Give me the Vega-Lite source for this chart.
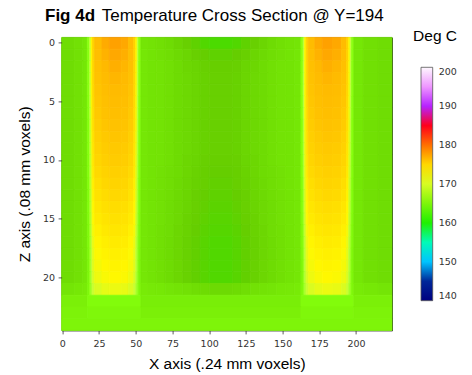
{
  "$schema": "https://vega.github.io/schema/vega-lite/v6.json",
  "autosize": "none",
  "padding": {"left": 61.6, "top": 37.4, "right": 80, "bottom": 44.6},
  "width": 330.4,
  "height": 293,
  "background": "white",
  "title": {
    "text": "Fig 4d",
    "subtitle": "\u200b\u00a0\u00a0\u00a0\u00a0\u00a0\u00a0\u00a0\u00a0\u00a0\u00a0\u00a0\u00a0Temperature Cross Section @ Y=194",
    "anchor": "start",
    "frame": "group",
    "dx": -16.6,
    "offset": 4,
    "font": "Liberation Sans",
    "fontSize": 17,
    "fontWeight": "bold",
    "color": "#000",
    "subtitleFont": "Liberation Sans",
    "subtitleFontSize": 17,
    "subtitleFontWeight": "normal",
    "subtitleColor": "#000",
    "subtitlePadding": -17
  },
  "config": {
    "view": {"stroke": "#333", "strokeWidth": 1},
    "font": "Liberation Sans"
  },
  "data": {
    "values": [
      {"a":-0.5,"b":8,"z":0,"t":163.2},{"a":8,"b":14,"z":0,"t":163.5},{"a":14,"b":17,"z":0,"t":163.9},{"a":17,"b":18.5,"z":0,"t":166},{"a":18.5,"b":19.5,"z":0,"t":168.7},{"a":19.5,"b":20.5,"z":0,"t":172.2},{"a":20.5,"b":22,"z":0,"t":175.6},{"a":22,"b":27,"z":0,"t":177.7},{"a":27,"b":32,"z":0,"t":178.3},{"a":32,"b":40,"z":0,"t":178.6},{"a":40,"b":45,"z":0,"t":178.4},{"a":45,"b":48.5,"z":0,"t":177.7},{"a":48.5,"b":50,"z":0,"t":175.6},{"a":50,"b":51,"z":0,"t":172.2},{"a":51,"b":52,"z":0,"t":168.7},{"a":52,"b":53.5,"z":0,"t":166},
      {"a":53.5,"b":58,"z":0,"t":163.8},{"a":58,"b":64,"z":0,"t":163.6},{"a":64,"b":70,"z":0,"t":163.4},{"a":70,"b":76,"z":0,"t":163.1},{"a":76,"b":82,"z":0,"t":162.7},{"a":82,"b":88,"z":0,"t":162.3},{"a":88,"b":94,"z":0,"t":161.9},{"a":94,"b":100,"z":0,"t":161.5},{"a":100,"b":116,"z":0,"t":161.3},{"a":116,"b":122,"z":0,"t":161.5},{"a":122,"b":128,"z":0,"t":161.9},{"a":128,"b":134,"z":0,"t":162.3},{"a":134,"b":140,"z":0,"t":162.7},{"a":140,"b":146,"z":0,"t":163.1},{"a":146,"b":152,"z":0,"t":163.4},{"a":152,"b":158,"z":0,"t":163.6},{"a":158,"b":162.5,"z":0,"t":163.8},
      {"a":162.5,"b":164,"z":0,"t":166},{"a":164,"b":165,"z":0,"t":168.7},{"a":165,"b":166,"z":0,"t":172.2},{"a":166,"b":167.5,"z":0,"t":175.6},{"a":167.5,"b":172,"z":0,"t":177.7},{"a":172,"b":177,"z":0,"t":178.3},{"a":177,"b":184,"z":0,"t":178.6},{"a":184,"b":190,"z":0,"t":178.4},{"a":190,"b":193.5,"z":0,"t":177.7},{"a":193.5,"b":195,"z":0,"t":175.6},{"a":195,"b":196,"z":0,"t":172.2},{"a":196,"b":197,"z":0,"t":168.7},{"a":197,"b":198.5,"z":0,"t":166},{"a":198.5,"b":205,"z":0,"t":163.9},{"a":205,"b":215,"z":0,"t":163.4},{"a":215,"b":224.5,"z":0,"t":163.2},

      {"a":-0.5,"b":8,"z":1,"t":163.2},{"a":8,"b":14,"z":1,"t":163.5},{"a":14,"b":17,"z":1,"t":163.9},{"a":17,"b":18.5,"z":1,"t":165.9},{"a":18.5,"b":19.5,"z":1,"t":168.7},{"a":19.5,"b":20.5,"z":1,"t":172.1},{"a":20.5,"b":22,"z":1,"t":175.5},{"a":22,"b":27,"z":1,"t":177.5},{"a":27,"b":32,"z":1,"t":178.1},{"a":32,"b":40,"z":1,"t":178.4},{"a":40,"b":45,"z":1,"t":178.2},{"a":45,"b":48.5,"z":1,"t":177.5},{"a":48.5,"b":50,"z":1,"t":175.5},{"a":50,"b":51,"z":1,"t":172.1},{"a":51,"b":52,"z":1,"t":168.7},{"a":52,"b":53.5,"z":1,"t":165.9},
      {"a":53.5,"b":58,"z":1,"t":163.9},{"a":58,"b":64,"z":1,"t":163.7},{"a":64,"b":70,"z":1,"t":163.5},{"a":70,"b":76,"z":1,"t":163.3},{"a":76,"b":82,"z":1,"t":163},{"a":82,"b":88,"z":1,"t":162.7},{"a":88,"b":94,"z":1,"t":162.3},{"a":94,"b":100,"z":1,"t":162.1},{"a":100,"b":116,"z":1,"t":161.9},{"a":116,"b":122,"z":1,"t":162.1},{"a":122,"b":128,"z":1,"t":162.3},{"a":128,"b":134,"z":1,"t":162.7},{"a":134,"b":140,"z":1,"t":163},{"a":140,"b":146,"z":1,"t":163.3},{"a":146,"b":152,"z":1,"t":163.5},{"a":152,"b":158,"z":1,"t":163.7},{"a":158,"b":162.5,"z":1,"t":163.9},
      {"a":162.5,"b":164,"z":1,"t":165.9},{"a":164,"b":165,"z":1,"t":168.7},{"a":165,"b":166,"z":1,"t":172.1},{"a":166,"b":167.5,"z":1,"t":175.5},{"a":167.5,"b":172,"z":1,"t":177.5},{"a":172,"b":177,"z":1,"t":178.1},{"a":177,"b":184,"z":1,"t":178.4},{"a":184,"b":190,"z":1,"t":178.2},{"a":190,"b":193.5,"z":1,"t":177.5},{"a":193.5,"b":195,"z":1,"t":175.5},{"a":195,"b":196,"z":1,"t":172.1},{"a":196,"b":197,"z":1,"t":168.7},{"a":197,"b":198.5,"z":1,"t":165.9},{"a":198.5,"b":205,"z":1,"t":163.9},{"a":205,"b":215,"z":1,"t":163.4},{"a":215,"b":224.5,"z":1,"t":163.2},

      {"a":-0.5,"b":8,"z":2,"t":163.2},{"a":8,"b":14,"z":2,"t":163.5},{"a":14,"b":17,"z":2,"t":163.9},{"a":17,"b":18.5,"z":2,"t":165.9},{"a":18.5,"b":19.5,"z":2,"t":168.6},{"a":19.5,"b":20.5,"z":2,"t":171.9},{"a":20.5,"b":22,"z":2,"t":175.3},{"a":22,"b":27,"z":2,"t":177.3},{"a":27,"b":32,"z":2,"t":177.9},{"a":32,"b":40,"z":2,"t":178.2},{"a":40,"b":45,"z":2,"t":178},{"a":45,"b":48.5,"z":2,"t":177.3},{"a":48.5,"b":50,"z":2,"t":175.3},{"a":50,"b":51,"z":2,"t":171.9},{"a":51,"b":52,"z":2,"t":168.6},{"a":52,"b":53.5,"z":2,"t":165.9},
      {"a":53.5,"b":58,"z":2,"t":163.9},{"a":58,"b":64,"z":2,"t":163.7},{"a":64,"b":70,"z":2,"t":163.6},{"a":70,"b":76,"z":2,"t":163.4},{"a":76,"b":82,"z":2,"t":163.1},{"a":82,"b":88,"z":2,"t":162.8},{"a":88,"b":94,"z":2,"t":162.6},{"a":94,"b":100,"z":2,"t":162.3},{"a":100,"b":116,"z":2,"t":162.2},{"a":116,"b":122,"z":2,"t":162.3},{"a":122,"b":128,"z":2,"t":162.6},{"a":128,"b":134,"z":2,"t":162.8},{"a":134,"b":140,"z":2,"t":163.1},{"a":140,"b":146,"z":2,"t":163.4},{"a":146,"b":152,"z":2,"t":163.6},{"a":152,"b":158,"z":2,"t":163.7},{"a":158,"b":162.5,"z":2,"t":163.9},
      {"a":162.5,"b":164,"z":2,"t":165.9},{"a":164,"b":165,"z":2,"t":168.6},{"a":165,"b":166,"z":2,"t":171.9},{"a":166,"b":167.5,"z":2,"t":175.3},{"a":167.5,"b":172,"z":2,"t":177.3},{"a":172,"b":177,"z":2,"t":177.9},{"a":177,"b":184,"z":2,"t":178.2},{"a":184,"b":190,"z":2,"t":178},{"a":190,"b":193.5,"z":2,"t":177.3},{"a":193.5,"b":195,"z":2,"t":175.3},{"a":195,"b":196,"z":2,"t":171.9},{"a":196,"b":197,"z":2,"t":168.6},{"a":197,"b":198.5,"z":2,"t":165.9},{"a":198.5,"b":205,"z":2,"t":163.9},{"a":205,"b":215,"z":2,"t":163.4},{"a":215,"b":224.5,"z":2,"t":163.2},

      {"a":-0.5,"b":8,"z":3,"t":163.2},{"a":8,"b":14,"z":3,"t":163.5},{"a":14,"b":17,"z":3,"t":163.9},{"a":17,"b":18.5,"z":3,"t":165.9},{"a":18.5,"b":19.5,"z":3,"t":168.5},{"a":19.5,"b":20.5,"z":3,"t":171.8},{"a":20.5,"b":22,"z":3,"t":175.1},{"a":22,"b":27,"z":3,"t":177.1},{"a":27,"b":32,"z":3,"t":177.7},{"a":32,"b":40,"z":3,"t":178},{"a":40,"b":45,"z":3,"t":177.8},{"a":45,"b":48.5,"z":3,"t":177.1},{"a":48.5,"b":50,"z":3,"t":175.1},{"a":50,"b":51,"z":3,"t":171.8},{"a":51,"b":52,"z":3,"t":168.5},{"a":52,"b":53.5,"z":3,"t":165.9},
      {"a":53.5,"b":58,"z":3,"t":163.9},{"a":58,"b":64,"z":3,"t":163.7},{"a":64,"b":70,"z":3,"t":163.6},{"a":70,"b":76,"z":3,"t":163.4},{"a":76,"b":82,"z":3,"t":163.1},{"a":82,"b":88,"z":3,"t":162.9},{"a":88,"b":94,"z":3,"t":162.7},{"a":94,"b":100,"z":3,"t":162.4},{"a":100,"b":116,"z":3,"t":162.3},{"a":116,"b":122,"z":3,"t":162.4},{"a":122,"b":128,"z":3,"t":162.7},{"a":128,"b":134,"z":3,"t":162.9},{"a":134,"b":140,"z":3,"t":163.1},{"a":140,"b":146,"z":3,"t":163.4},{"a":146,"b":152,"z":3,"t":163.6},{"a":152,"b":158,"z":3,"t":163.7},{"a":158,"b":162.5,"z":3,"t":163.9},
      {"a":162.5,"b":164,"z":3,"t":165.9},{"a":164,"b":165,"z":3,"t":168.5},{"a":165,"b":166,"z":3,"t":171.8},{"a":166,"b":167.5,"z":3,"t":175.1},{"a":167.5,"b":172,"z":3,"t":177.1},{"a":172,"b":177,"z":3,"t":177.7},{"a":177,"b":184,"z":3,"t":178},{"a":184,"b":190,"z":3,"t":177.8},{"a":190,"b":193.5,"z":3,"t":177.1},{"a":193.5,"b":195,"z":3,"t":175.1},{"a":195,"b":196,"z":3,"t":171.8},{"a":196,"b":197,"z":3,"t":168.5},{"a":197,"b":198.5,"z":3,"t":165.9},{"a":198.5,"b":205,"z":3,"t":163.9},{"a":205,"b":215,"z":3,"t":163.4},{"a":215,"b":224.5,"z":3,"t":163.2},

      {"a":-0.5,"b":8,"z":4,"t":163.2},{"a":8,"b":14,"z":4,"t":163.5},{"a":14,"b":17,"z":4,"t":163.9},{"a":17,"b":18.5,"z":4,"t":165.9},{"a":18.5,"b":19.5,"z":4,"t":168.5},{"a":19.5,"b":20.5,"z":4,"t":171.7},{"a":20.5,"b":22,"z":4,"t":175},{"a":22,"b":27,"z":4,"t":176.9},{"a":27,"b":32,"z":4,"t":177.5},{"a":32,"b":40,"z":4,"t":177.8},{"a":40,"b":45,"z":4,"t":177.6},{"a":45,"b":48.5,"z":4,"t":176.9},{"a":48.5,"b":50,"z":4,"t":175},{"a":50,"b":51,"z":4,"t":171.7},{"a":51,"b":52,"z":4,"t":168.5},{"a":52,"b":53.5,"z":4,"t":165.9},
      {"a":53.5,"b":58,"z":4,"t":163.9},{"a":58,"b":64,"z":4,"t":163.7},{"a":64,"b":70,"z":4,"t":163.6},{"a":70,"b":76,"z":4,"t":163.4},{"a":76,"b":82,"z":4,"t":163.1},{"a":82,"b":88,"z":4,"t":162.9},{"a":88,"b":94,"z":4,"t":162.7},{"a":94,"b":100,"z":4,"t":162.4},{"a":100,"b":116,"z":4,"t":162.3},{"a":116,"b":122,"z":4,"t":162.4},{"a":122,"b":128,"z":4,"t":162.7},{"a":128,"b":134,"z":4,"t":162.9},{"a":134,"b":140,"z":4,"t":163.1},{"a":140,"b":146,"z":4,"t":163.4},{"a":146,"b":152,"z":4,"t":163.6},{"a":152,"b":158,"z":4,"t":163.7},{"a":158,"b":162.5,"z":4,"t":163.9},
      {"a":162.5,"b":164,"z":4,"t":165.9},{"a":164,"b":165,"z":4,"t":168.5},{"a":165,"b":166,"z":4,"t":171.7},{"a":166,"b":167.5,"z":4,"t":175},{"a":167.5,"b":172,"z":4,"t":176.9},{"a":172,"b":177,"z":4,"t":177.5},{"a":177,"b":184,"z":4,"t":177.8},{"a":184,"b":190,"z":4,"t":177.6},{"a":190,"b":193.5,"z":4,"t":176.9},{"a":193.5,"b":195,"z":4,"t":175},{"a":195,"b":196,"z":4,"t":171.7},{"a":196,"b":197,"z":4,"t":168.5},{"a":197,"b":198.5,"z":4,"t":165.9},{"a":198.5,"b":205,"z":4,"t":163.9},{"a":205,"b":215,"z":4,"t":163.4},{"a":215,"b":224.5,"z":4,"t":163.2},

      {"a":-0.5,"b":8,"z":5,"t":163.2},{"a":8,"b":14,"z":5,"t":163.5},{"a":14,"b":17,"z":5,"t":163.9},{"a":17,"b":18.5,"z":5,"t":165.8},{"a":18.5,"b":19.5,"z":5,"t":168.4},{"a":19.5,"b":20.5,"z":5,"t":171.6},{"a":20.5,"b":22,"z":5,"t":174.8},{"a":22,"b":27,"z":5,"t":176.7},{"a":27,"b":32,"z":5,"t":177.3},{"a":32,"b":40,"z":5,"t":177.6},{"a":40,"b":45,"z":5,"t":177.4},{"a":45,"b":48.5,"z":5,"t":176.7},{"a":48.5,"b":50,"z":5,"t":174.8},{"a":50,"b":51,"z":5,"t":171.6},{"a":51,"b":52,"z":5,"t":168.4},{"a":52,"b":53.5,"z":5,"t":165.8},
      {"a":53.5,"b":58,"z":5,"t":163.9},{"a":58,"b":64,"z":5,"t":163.7},{"a":64,"b":70,"z":5,"t":163.6},{"a":70,"b":76,"z":5,"t":163.4},{"a":76,"b":82,"z":5,"t":163.1},{"a":82,"b":88,"z":5,"t":162.9},{"a":88,"b":94,"z":5,"t":162.7},{"a":94,"b":100,"z":5,"t":162.4},{"a":100,"b":116,"z":5,"t":162.3},{"a":116,"b":122,"z":5,"t":162.4},{"a":122,"b":128,"z":5,"t":162.7},{"a":128,"b":134,"z":5,"t":162.9},{"a":134,"b":140,"z":5,"t":163.1},{"a":140,"b":146,"z":5,"t":163.4},{"a":146,"b":152,"z":5,"t":163.6},{"a":152,"b":158,"z":5,"t":163.7},{"a":158,"b":162.5,"z":5,"t":163.9},
      {"a":162.5,"b":164,"z":5,"t":165.8},{"a":164,"b":165,"z":5,"t":168.4},{"a":165,"b":166,"z":5,"t":171.6},{"a":166,"b":167.5,"z":5,"t":174.8},{"a":167.5,"b":172,"z":5,"t":176.7},{"a":172,"b":177,"z":5,"t":177.3},{"a":177,"b":184,"z":5,"t":177.6},{"a":184,"b":190,"z":5,"t":177.4},{"a":190,"b":193.5,"z":5,"t":176.7},{"a":193.5,"b":195,"z":5,"t":174.8},{"a":195,"b":196,"z":5,"t":171.6},{"a":196,"b":197,"z":5,"t":168.4},{"a":197,"b":198.5,"z":5,"t":165.8},{"a":198.5,"b":205,"z":5,"t":163.9},{"a":205,"b":215,"z":5,"t":163.4},{"a":215,"b":224.5,"z":5,"t":163.2},

      {"a":-0.5,"b":8,"z":6,"t":163.2},{"a":8,"b":14,"z":6,"t":163.5},{"a":14,"b":17,"z":6,"t":163.9},{"a":17,"b":18.5,"z":6,"t":165.8},{"a":18.5,"b":19.5,"z":6,"t":168.3},{"a":19.5,"b":20.5,"z":6,"t":171.5},{"a":20.5,"b":22,"z":6,"t":174.6},{"a":22,"b":27,"z":6,"t":176.5},{"a":27,"b":32,"z":6,"t":177.1},{"a":32,"b":40,"z":6,"t":177.4},{"a":40,"b":45,"z":6,"t":177.2},{"a":45,"b":48.5,"z":6,"t":176.5},{"a":48.5,"b":50,"z":6,"t":174.6},{"a":50,"b":51,"z":6,"t":171.5},{"a":51,"b":52,"z":6,"t":168.3},{"a":52,"b":53.5,"z":6,"t":165.8},
      {"a":53.5,"b":58,"z":6,"t":163.9},{"a":58,"b":64,"z":6,"t":163.7},{"a":64,"b":70,"z":6,"t":163.6},{"a":70,"b":76,"z":6,"t":163.4},{"a":76,"b":82,"z":6,"t":163.1},{"a":82,"b":88,"z":6,"t":162.9},{"a":88,"b":94,"z":6,"t":162.7},{"a":94,"b":100,"z":6,"t":162.4},{"a":100,"b":116,"z":6,"t":162.3},{"a":116,"b":122,"z":6,"t":162.4},{"a":122,"b":128,"z":6,"t":162.7},{"a":128,"b":134,"z":6,"t":162.9},{"a":134,"b":140,"z":6,"t":163.1},{"a":140,"b":146,"z":6,"t":163.4},{"a":146,"b":152,"z":6,"t":163.6},{"a":152,"b":158,"z":6,"t":163.7},{"a":158,"b":162.5,"z":6,"t":163.9},
      {"a":162.5,"b":164,"z":6,"t":165.8},{"a":164,"b":165,"z":6,"t":168.3},{"a":165,"b":166,"z":6,"t":171.5},{"a":166,"b":167.5,"z":6,"t":174.6},{"a":167.5,"b":172,"z":6,"t":176.5},{"a":172,"b":177,"z":6,"t":177.1},{"a":177,"b":184,"z":6,"t":177.4},{"a":184,"b":190,"z":6,"t":177.2},{"a":190,"b":193.5,"z":6,"t":176.5},{"a":193.5,"b":195,"z":6,"t":174.6},{"a":195,"b":196,"z":6,"t":171.5},{"a":196,"b":197,"z":6,"t":168.3},{"a":197,"b":198.5,"z":6,"t":165.8},{"a":198.5,"b":205,"z":6,"t":163.9},{"a":205,"b":215,"z":6,"t":163.4},{"a":215,"b":224.5,"z":6,"t":163.2},

      {"a":-0.5,"b":8,"z":7,"t":163.2},{"a":8,"b":14,"z":7,"t":163.5},{"a":14,"b":17,"z":7,"t":163.9},{"a":17,"b":18.5,"z":7,"t":165.7},{"a":18.5,"b":19.5,"z":7,"t":168.2},{"a":19.5,"b":20.5,"z":7,"t":171.3},{"a":20.5,"b":22,"z":7,"t":174.4},{"a":22,"b":27,"z":7,"t":176.2},{"a":27,"b":32,"z":7,"t":176.8},{"a":32,"b":40,"z":7,"t":177.1},{"a":40,"b":45,"z":7,"t":176.9},{"a":45,"b":48.5,"z":7,"t":176.2},{"a":48.5,"b":50,"z":7,"t":174.4},{"a":50,"b":51,"z":7,"t":171.3},{"a":51,"b":52,"z":7,"t":168.2},{"a":52,"b":53.5,"z":7,"t":165.7},
      {"a":53.5,"b":58,"z":7,"t":163.9},{"a":58,"b":64,"z":7,"t":163.7},{"a":64,"b":70,"z":7,"t":163.6},{"a":70,"b":76,"z":7,"t":163.4},{"a":76,"b":82,"z":7,"t":163.1},{"a":82,"b":88,"z":7,"t":162.9},{"a":88,"b":94,"z":7,"t":162.7},{"a":94,"b":100,"z":7,"t":162.4},{"a":100,"b":116,"z":7,"t":162.3},{"a":116,"b":122,"z":7,"t":162.4},{"a":122,"b":128,"z":7,"t":162.7},{"a":128,"b":134,"z":7,"t":162.9},{"a":134,"b":140,"z":7,"t":163.1},{"a":140,"b":146,"z":7,"t":163.4},{"a":146,"b":152,"z":7,"t":163.6},{"a":152,"b":158,"z":7,"t":163.7},{"a":158,"b":162.5,"z":7,"t":163.9},
      {"a":162.5,"b":164,"z":7,"t":165.7},{"a":164,"b":165,"z":7,"t":168.2},{"a":165,"b":166,"z":7,"t":171.3},{"a":166,"b":167.5,"z":7,"t":174.4},{"a":167.5,"b":172,"z":7,"t":176.2},{"a":172,"b":177,"z":7,"t":176.8},{"a":177,"b":184,"z":7,"t":177.1},{"a":184,"b":190,"z":7,"t":176.9},{"a":190,"b":193.5,"z":7,"t":176.2},{"a":193.5,"b":195,"z":7,"t":174.4},{"a":195,"b":196,"z":7,"t":171.3},{"a":196,"b":197,"z":7,"t":168.2},{"a":197,"b":198.5,"z":7,"t":165.7},{"a":198.5,"b":205,"z":7,"t":163.9},{"a":205,"b":215,"z":7,"t":163.4},{"a":215,"b":224.5,"z":7,"t":163.2},

      {"a":-0.5,"b":8,"z":8,"t":163.2},{"a":8,"b":14,"z":8,"t":163.5},{"a":14,"b":17,"z":8,"t":163.9},{"a":17,"b":18.5,"z":8,"t":165.7},{"a":18.5,"b":19.5,"z":8,"t":168.1},{"a":19.5,"b":20.5,"z":8,"t":171.1},{"a":20.5,"b":22,"z":8,"t":174.1},{"a":22,"b":27,"z":8,"t":175.9},{"a":27,"b":32,"z":8,"t":176.5},{"a":32,"b":40,"z":8,"t":176.8},{"a":40,"b":45,"z":8,"t":176.6},{"a":45,"b":48.5,"z":8,"t":175.9},{"a":48.5,"b":50,"z":8,"t":174.1},{"a":50,"b":51,"z":8,"t":171.1},{"a":51,"b":52,"z":8,"t":168.1},{"a":52,"b":53.5,"z":8,"t":165.7},
      {"a":53.5,"b":58,"z":8,"t":163.9},{"a":58,"b":64,"z":8,"t":163.7},{"a":64,"b":70,"z":8,"t":163.6},{"a":70,"b":76,"z":8,"t":163.4},{"a":76,"b":82,"z":8,"t":163.1},{"a":82,"b":88,"z":8,"t":162.9},{"a":88,"b":94,"z":8,"t":162.7},{"a":94,"b":100,"z":8,"t":162.4},{"a":100,"b":116,"z":8,"t":162.3},{"a":116,"b":122,"z":8,"t":162.4},{"a":122,"b":128,"z":8,"t":162.7},{"a":128,"b":134,"z":8,"t":162.9},{"a":134,"b":140,"z":8,"t":163.1},{"a":140,"b":146,"z":8,"t":163.4},{"a":146,"b":152,"z":8,"t":163.6},{"a":152,"b":158,"z":8,"t":163.7},{"a":158,"b":162.5,"z":8,"t":163.9},
      {"a":162.5,"b":164,"z":8,"t":165.7},{"a":164,"b":165,"z":8,"t":168.1},{"a":165,"b":166,"z":8,"t":171.1},{"a":166,"b":167.5,"z":8,"t":174.1},{"a":167.5,"b":172,"z":8,"t":175.9},{"a":172,"b":177,"z":8,"t":176.5},{"a":177,"b":184,"z":8,"t":176.8},{"a":184,"b":190,"z":8,"t":176.6},{"a":190,"b":193.5,"z":8,"t":175.9},{"a":193.5,"b":195,"z":8,"t":174.1},{"a":195,"b":196,"z":8,"t":171.1},{"a":196,"b":197,"z":8,"t":168.1},{"a":197,"b":198.5,"z":8,"t":165.7},{"a":198.5,"b":205,"z":8,"t":163.9},{"a":205,"b":215,"z":8,"t":163.4},{"a":215,"b":224.5,"z":8,"t":163.2},

      {"a":-0.5,"b":8,"z":9,"t":163.2},{"a":8,"b":14,"z":9,"t":163.5},{"a":14,"b":17,"z":9,"t":163.9},{"a":17,"b":18.5,"z":9,"t":165.7},{"a":18.5,"b":19.5,"z":9,"t":168},{"a":19.5,"b":20.5,"z":9,"t":170.9},{"a":20.5,"b":22,"z":9,"t":173.8},{"a":22,"b":27,"z":9,"t":175.6},{"a":27,"b":32,"z":9,"t":176.2},{"a":32,"b":40,"z":9,"t":176.5},{"a":40,"b":45,"z":9,"t":176.3},{"a":45,"b":48.5,"z":9,"t":175.6},{"a":48.5,"b":50,"z":9,"t":173.8},{"a":50,"b":51,"z":9,"t":170.9},{"a":51,"b":52,"z":9,"t":168},{"a":52,"b":53.5,"z":9,"t":165.7},
      {"a":53.5,"b":58,"z":9,"t":163.9},{"a":58,"b":64,"z":9,"t":163.7},{"a":64,"b":70,"z":9,"t":163.6},{"a":70,"b":76,"z":9,"t":163.4},{"a":76,"b":82,"z":9,"t":163.1},{"a":82,"b":88,"z":9,"t":162.9},{"a":88,"b":94,"z":9,"t":162.7},{"a":94,"b":100,"z":9,"t":162.4},{"a":100,"b":116,"z":9,"t":162.3},{"a":116,"b":122,"z":9,"t":162.4},{"a":122,"b":128,"z":9,"t":162.7},{"a":128,"b":134,"z":9,"t":162.9},{"a":134,"b":140,"z":9,"t":163.1},{"a":140,"b":146,"z":9,"t":163.4},{"a":146,"b":152,"z":9,"t":163.6},{"a":152,"b":158,"z":9,"t":163.7},{"a":158,"b":162.5,"z":9,"t":163.9},
      {"a":162.5,"b":164,"z":9,"t":165.7},{"a":164,"b":165,"z":9,"t":168},{"a":165,"b":166,"z":9,"t":170.9},{"a":166,"b":167.5,"z":9,"t":173.8},{"a":167.5,"b":172,"z":9,"t":175.6},{"a":172,"b":177,"z":9,"t":176.2},{"a":177,"b":184,"z":9,"t":176.5},{"a":184,"b":190,"z":9,"t":176.3},{"a":190,"b":193.5,"z":9,"t":175.6},{"a":193.5,"b":195,"z":9,"t":173.8},{"a":195,"b":196,"z":9,"t":170.9},{"a":196,"b":197,"z":9,"t":168},{"a":197,"b":198.5,"z":9,"t":165.7},{"a":198.5,"b":205,"z":9,"t":163.9},{"a":205,"b":215,"z":9,"t":163.4},{"a":215,"b":224.5,"z":9,"t":163.2},

      {"a":-0.5,"b":8,"z":10,"t":163.2},{"a":8,"b":14,"z":10,"t":163.5},{"a":14,"b":17,"z":10,"t":163.9},{"a":17,"b":18.5,"z":10,"t":165.6},{"a":18.5,"b":19.5,"z":10,"t":167.9},{"a":19.5,"b":20.5,"z":10,"t":170.7},{"a":20.5,"b":22,"z":10,"t":173.6},{"a":22,"b":27,"z":10,"t":175.3},{"a":27,"b":32,"z":10,"t":175.9},{"a":32,"b":40,"z":10,"t":176.2},{"a":40,"b":45,"z":10,"t":176},{"a":45,"b":48.5,"z":10,"t":175.3},{"a":48.5,"b":50,"z":10,"t":173.6},{"a":50,"b":51,"z":10,"t":170.7},{"a":51,"b":52,"z":10,"t":167.9},{"a":52,"b":53.5,"z":10,"t":165.6},
      {"a":53.5,"b":58,"z":10,"t":163.9},{"a":58,"b":64,"z":10,"t":163.7},{"a":64,"b":70,"z":10,"t":163.6},{"a":70,"b":76,"z":10,"t":163.4},{"a":76,"b":82,"z":10,"t":163.1},{"a":82,"b":88,"z":10,"t":162.8},{"a":88,"b":94,"z":10,"t":162.6},{"a":94,"b":100,"z":10,"t":162.3},{"a":100,"b":116,"z":10,"t":162.2},{"a":116,"b":122,"z":10,"t":162.3},{"a":122,"b":128,"z":10,"t":162.6},{"a":128,"b":134,"z":10,"t":162.8},{"a":134,"b":140,"z":10,"t":163.1},{"a":140,"b":146,"z":10,"t":163.4},{"a":146,"b":152,"z":10,"t":163.6},{"a":152,"b":158,"z":10,"t":163.7},{"a":158,"b":162.5,"z":10,"t":163.9},
      {"a":162.5,"b":164,"z":10,"t":165.6},{"a":164,"b":165,"z":10,"t":167.9},{"a":165,"b":166,"z":10,"t":170.7},{"a":166,"b":167.5,"z":10,"t":173.6},{"a":167.5,"b":172,"z":10,"t":175.3},{"a":172,"b":177,"z":10,"t":175.9},{"a":177,"b":184,"z":10,"t":176.2},{"a":184,"b":190,"z":10,"t":176},{"a":190,"b":193.5,"z":10,"t":175.3},{"a":193.5,"b":195,"z":10,"t":173.6},{"a":195,"b":196,"z":10,"t":170.7},{"a":196,"b":197,"z":10,"t":167.9},{"a":197,"b":198.5,"z":10,"t":165.6},{"a":198.5,"b":205,"z":10,"t":163.9},{"a":205,"b":215,"z":10,"t":163.4},{"a":215,"b":224.5,"z":10,"t":163.2},

      {"a":-0.5,"b":8,"z":11,"t":163.2},{"a":8,"b":14,"z":11,"t":163.5},{"a":14,"b":17,"z":11,"t":163.9},{"a":17,"b":18.5,"z":11,"t":165.6},{"a":18.5,"b":19.5,"z":11,"t":167.8},{"a":19.5,"b":20.5,"z":11,"t":170.5},{"a":20.5,"b":22,"z":11,"t":173.3},{"a":22,"b":27,"z":11,"t":174.9},{"a":27,"b":32,"z":11,"t":175.5},{"a":32,"b":40,"z":11,"t":175.8},{"a":40,"b":45,"z":11,"t":175.6},{"a":45,"b":48.5,"z":11,"t":174.9},{"a":48.5,"b":50,"z":11,"t":173.3},{"a":50,"b":51,"z":11,"t":170.5},{"a":51,"b":52,"z":11,"t":167.8},{"a":52,"b":53.5,"z":11,"t":165.6},
      {"a":53.5,"b":58,"z":11,"t":163.9},{"a":58,"b":64,"z":11,"t":163.7},{"a":64,"b":70,"z":11,"t":163.5},{"a":70,"b":76,"z":11,"t":163.3},{"a":76,"b":82,"z":11,"t":163.1},{"a":82,"b":88,"z":11,"t":162.8},{"a":88,"b":94,"z":11,"t":162.5},{"a":94,"b":100,"z":11,"t":162.2},{"a":100,"b":116,"z":11,"t":162.1},{"a":116,"b":122,"z":11,"t":162.2},{"a":122,"b":128,"z":11,"t":162.5},{"a":128,"b":134,"z":11,"t":162.8},{"a":134,"b":140,"z":11,"t":163.1},{"a":140,"b":146,"z":11,"t":163.3},{"a":146,"b":152,"z":11,"t":163.5},{"a":152,"b":158,"z":11,"t":163.7},{"a":158,"b":162.5,"z":11,"t":163.9},
      {"a":162.5,"b":164,"z":11,"t":165.6},{"a":164,"b":165,"z":11,"t":167.8},{"a":165,"b":166,"z":11,"t":170.5},{"a":166,"b":167.5,"z":11,"t":173.3},{"a":167.5,"b":172,"z":11,"t":174.9},{"a":172,"b":177,"z":11,"t":175.5},{"a":177,"b":184,"z":11,"t":175.8},{"a":184,"b":190,"z":11,"t":175.6},{"a":190,"b":193.5,"z":11,"t":174.9},{"a":193.5,"b":195,"z":11,"t":173.3},{"a":195,"b":196,"z":11,"t":170.5},{"a":196,"b":197,"z":11,"t":167.8},{"a":197,"b":198.5,"z":11,"t":165.6},{"a":198.5,"b":205,"z":11,"t":163.9},{"a":205,"b":215,"z":11,"t":163.4},{"a":215,"b":224.5,"z":11,"t":163.2},

      {"a":-0.5,"b":8,"z":12,"t":163.2},{"a":8,"b":14,"z":12,"t":163.5},{"a":14,"b":17,"z":12,"t":163.9},{"a":17,"b":18.5,"z":12,"t":165.5},{"a":18.5,"b":19.5,"z":12,"t":167.6},{"a":19.5,"b":20.5,"z":12,"t":170.3},{"a":20.5,"b":22,"z":12,"t":172.9},{"a":22,"b":27,"z":12,"t":174.5},{"a":27,"b":32,"z":12,"t":175.1},{"a":32,"b":40,"z":12,"t":175.4},{"a":40,"b":45,"z":12,"t":175.2},{"a":45,"b":48.5,"z":12,"t":174.5},{"a":48.5,"b":50,"z":12,"t":172.9},{"a":50,"b":51,"z":12,"t":170.3},{"a":51,"b":52,"z":12,"t":167.6},{"a":52,"b":53.5,"z":12,"t":165.5},
      {"a":53.5,"b":58,"z":12,"t":163.9},{"a":58,"b":64,"z":12,"t":163.7},{"a":64,"b":70,"z":12,"t":163.5},{"a":70,"b":76,"z":12,"t":163.3},{"a":76,"b":82,"z":12,"t":163},{"a":82,"b":88,"z":12,"t":162.7},{"a":88,"b":94,"z":12,"t":162.4},{"a":94,"b":100,"z":12,"t":162.2},{"a":100,"b":116,"z":12,"t":162},{"a":116,"b":122,"z":12,"t":162.2},{"a":122,"b":128,"z":12,"t":162.4},{"a":128,"b":134,"z":12,"t":162.7},{"a":134,"b":140,"z":12,"t":163},{"a":140,"b":146,"z":12,"t":163.3},{"a":146,"b":152,"z":12,"t":163.5},{"a":152,"b":158,"z":12,"t":163.7},{"a":158,"b":162.5,"z":12,"t":163.9},
      {"a":162.5,"b":164,"z":12,"t":165.5},{"a":164,"b":165,"z":12,"t":167.6},{"a":165,"b":166,"z":12,"t":170.3},{"a":166,"b":167.5,"z":12,"t":172.9},{"a":167.5,"b":172,"z":12,"t":174.5},{"a":172,"b":177,"z":12,"t":175.1},{"a":177,"b":184,"z":12,"t":175.4},{"a":184,"b":190,"z":12,"t":175.2},{"a":190,"b":193.5,"z":12,"t":174.5},{"a":193.5,"b":195,"z":12,"t":172.9},{"a":195,"b":196,"z":12,"t":170.3},{"a":196,"b":197,"z":12,"t":167.6},{"a":197,"b":198.5,"z":12,"t":165.5},{"a":198.5,"b":205,"z":12,"t":163.9},{"a":205,"b":215,"z":12,"t":163.4},{"a":215,"b":224.5,"z":12,"t":163.2},

      {"a":-0.5,"b":8,"z":13,"t":163.2},{"a":8,"b":14,"z":13,"t":163.5},{"a":14,"b":17,"z":13,"t":163.9},{"a":17,"b":18.5,"z":13,"t":165.4},{"a":18.5,"b":19.5,"z":13,"t":167.5},{"a":19.5,"b":20.5,"z":13,"t":170},{"a":20.5,"b":22,"z":13,"t":172.6},{"a":22,"b":27,"z":13,"t":174.1},{"a":27,"b":32,"z":13,"t":174.7},{"a":32,"b":40,"z":13,"t":175},{"a":40,"b":45,"z":13,"t":174.8},{"a":45,"b":48.5,"z":13,"t":174.1},{"a":48.5,"b":50,"z":13,"t":172.6},{"a":50,"b":51,"z":13,"t":170},{"a":51,"b":52,"z":13,"t":167.5},{"a":52,"b":53.5,"z":13,"t":165.4},
      {"a":53.5,"b":58,"z":13,"t":163.9},{"a":58,"b":64,"z":13,"t":163.7},{"a":64,"b":70,"z":13,"t":163.5},{"a":70,"b":76,"z":13,"t":163.3},{"a":76,"b":82,"z":13,"t":163},{"a":82,"b":88,"z":13,"t":162.7},{"a":88,"b":94,"z":13,"t":162.3},{"a":94,"b":100,"z":13,"t":162.1},{"a":100,"b":116,"z":13,"t":161.9},{"a":116,"b":122,"z":13,"t":162.1},{"a":122,"b":128,"z":13,"t":162.3},{"a":128,"b":134,"z":13,"t":162.7},{"a":134,"b":140,"z":13,"t":163},{"a":140,"b":146,"z":13,"t":163.3},{"a":146,"b":152,"z":13,"t":163.5},{"a":152,"b":158,"z":13,"t":163.7},{"a":158,"b":162.5,"z":13,"t":163.9},
      {"a":162.5,"b":164,"z":13,"t":165.4},{"a":164,"b":165,"z":13,"t":167.5},{"a":165,"b":166,"z":13,"t":170},{"a":166,"b":167.5,"z":13,"t":172.6},{"a":167.5,"b":172,"z":13,"t":174.1},{"a":172,"b":177,"z":13,"t":174.7},{"a":177,"b":184,"z":13,"t":175},{"a":184,"b":190,"z":13,"t":174.8},{"a":190,"b":193.5,"z":13,"t":174.1},{"a":193.5,"b":195,"z":13,"t":172.6},{"a":195,"b":196,"z":13,"t":170},{"a":196,"b":197,"z":13,"t":167.5},{"a":197,"b":198.5,"z":13,"t":165.4},{"a":198.5,"b":205,"z":13,"t":163.9},{"a":205,"b":215,"z":13,"t":163.4},{"a":215,"b":224.5,"z":13,"t":163.2},

      {"a":-0.5,"b":8,"z":14,"t":163.2},{"a":8,"b":14,"z":14,"t":163.5},{"a":14,"b":17,"z":14,"t":163.9},{"a":17,"b":18.5,"z":14,"t":165.4},{"a":18.5,"b":19.5,"z":14,"t":167.3},{"a":19.5,"b":20.5,"z":14,"t":169.8},{"a":20.5,"b":22,"z":14,"t":172.2},{"a":22,"b":27,"z":14,"t":173.7},{"a":27,"b":32,"z":14,"t":174.3},{"a":32,"b":40,"z":14,"t":174.6},{"a":40,"b":45,"z":14,"t":174.4},{"a":45,"b":48.5,"z":14,"t":173.7},{"a":48.5,"b":50,"z":14,"t":172.2},{"a":50,"b":51,"z":14,"t":169.8},{"a":51,"b":52,"z":14,"t":167.3},{"a":52,"b":53.5,"z":14,"t":165.4},
      {"a":53.5,"b":58,"z":14,"t":163.9},{"a":58,"b":64,"z":14,"t":163.7},{"a":64,"b":70,"z":14,"t":163.5},{"a":70,"b":76,"z":14,"t":163.2},{"a":76,"b":82,"z":14,"t":162.9},{"a":82,"b":88,"z":14,"t":162.6},{"a":88,"b":94,"z":14,"t":162.3},{"a":94,"b":100,"z":14,"t":162},{"a":100,"b":116,"z":14,"t":161.8},{"a":116,"b":122,"z":14,"t":162},{"a":122,"b":128,"z":14,"t":162.3},{"a":128,"b":134,"z":14,"t":162.6},{"a":134,"b":140,"z":14,"t":162.9},{"a":140,"b":146,"z":14,"t":163.2},{"a":146,"b":152,"z":14,"t":163.5},{"a":152,"b":158,"z":14,"t":163.7},{"a":158,"b":162.5,"z":14,"t":163.9},
      {"a":162.5,"b":164,"z":14,"t":165.4},{"a":164,"b":165,"z":14,"t":167.3},{"a":165,"b":166,"z":14,"t":169.8},{"a":166,"b":167.5,"z":14,"t":172.2},{"a":167.5,"b":172,"z":14,"t":173.7},{"a":172,"b":177,"z":14,"t":174.3},{"a":177,"b":184,"z":14,"t":174.6},{"a":184,"b":190,"z":14,"t":174.4},{"a":190,"b":193.5,"z":14,"t":173.7},{"a":193.5,"b":195,"z":14,"t":172.2},{"a":195,"b":196,"z":14,"t":169.8},{"a":196,"b":197,"z":14,"t":167.3},{"a":197,"b":198.5,"z":14,"t":165.4},{"a":198.5,"b":205,"z":14,"t":163.9},{"a":205,"b":215,"z":14,"t":163.4},{"a":215,"b":224.5,"z":14,"t":163.2},

      {"a":-0.5,"b":8,"z":15,"t":163.2},{"a":8,"b":14,"z":15,"t":163.5},{"a":14,"b":17,"z":15,"t":163.9},{"a":17,"b":18.5,"z":15,"t":165.3},{"a":18.5,"b":19.5,"z":15,"t":167.2},{"a":19.5,"b":20.5,"z":15,"t":169.5},{"a":20.5,"b":22,"z":15,"t":171.9},{"a":22,"b":27,"z":15,"t":173.3},{"a":27,"b":32,"z":15,"t":173.9},{"a":32,"b":40,"z":15,"t":174.2},{"a":40,"b":45,"z":15,"t":174},{"a":45,"b":48.5,"z":15,"t":173.3},{"a":48.5,"b":50,"z":15,"t":171.9},{"a":50,"b":51,"z":15,"t":169.5},{"a":51,"b":52,"z":15,"t":167.2},{"a":52,"b":53.5,"z":15,"t":165.3},
      {"a":53.5,"b":58,"z":15,"t":163.9},{"a":58,"b":64,"z":15,"t":163.7},{"a":64,"b":70,"z":15,"t":163.5},{"a":70,"b":76,"z":15,"t":163.2},{"a":76,"b":82,"z":15,"t":162.9},{"a":82,"b":88,"z":15,"t":162.5},{"a":88,"b":94,"z":15,"t":162.2},{"a":94,"b":100,"z":15,"t":161.9},{"a":100,"b":116,"z":15,"t":161.7},{"a":116,"b":122,"z":15,"t":161.9},{"a":122,"b":128,"z":15,"t":162.2},{"a":128,"b":134,"z":15,"t":162.5},{"a":134,"b":140,"z":15,"t":162.9},{"a":140,"b":146,"z":15,"t":163.2},{"a":146,"b":152,"z":15,"t":163.5},{"a":152,"b":158,"z":15,"t":163.7},{"a":158,"b":162.5,"z":15,"t":163.9},
      {"a":162.5,"b":164,"z":15,"t":165.3},{"a":164,"b":165,"z":15,"t":167.2},{"a":165,"b":166,"z":15,"t":169.5},{"a":166,"b":167.5,"z":15,"t":171.9},{"a":167.5,"b":172,"z":15,"t":173.3},{"a":172,"b":177,"z":15,"t":173.9},{"a":177,"b":184,"z":15,"t":174.2},{"a":184,"b":190,"z":15,"t":174},{"a":190,"b":193.5,"z":15,"t":173.3},{"a":193.5,"b":195,"z":15,"t":171.9},{"a":195,"b":196,"z":15,"t":169.5},{"a":196,"b":197,"z":15,"t":167.2},{"a":197,"b":198.5,"z":15,"t":165.3},{"a":198.5,"b":205,"z":15,"t":163.9},{"a":205,"b":215,"z":15,"t":163.4},{"a":215,"b":224.5,"z":15,"t":163.2},

      {"a":-0.5,"b":8,"z":16,"t":163.2},{"a":8,"b":14,"z":16,"t":163.5},{"a":14,"b":17,"z":16,"t":163.9},{"a":17,"b":18.5,"z":16,"t":165.2},{"a":18.5,"b":19.5,"z":16,"t":167},{"a":19.5,"b":20.5,"z":16,"t":169.2},{"a":20.5,"b":22,"z":16,"t":171.5},{"a":22,"b":27,"z":16,"t":172.8},{"a":27,"b":32,"z":16,"t":173.4},{"a":32,"b":40,"z":16,"t":173.7},{"a":40,"b":45,"z":16,"t":173.5},{"a":45,"b":48.5,"z":16,"t":172.8},{"a":48.5,"b":50,"z":16,"t":171.5},{"a":50,"b":51,"z":16,"t":169.2},{"a":51,"b":52,"z":16,"t":167},{"a":52,"b":53.5,"z":16,"t":165.2},
      {"a":53.5,"b":58,"z":16,"t":163.9},{"a":58,"b":64,"z":16,"t":163.7},{"a":64,"b":70,"z":16,"t":163.4},{"a":70,"b":76,"z":16,"t":163.2},{"a":76,"b":82,"z":16,"t":162.8},{"a":82,"b":88,"z":16,"t":162.5},{"a":88,"b":94,"z":16,"t":162.1},{"a":94,"b":100,"z":16,"t":161.8},{"a":100,"b":116,"z":16,"t":161.6},{"a":116,"b":122,"z":16,"t":161.8},{"a":122,"b":128,"z":16,"t":162.1},{"a":128,"b":134,"z":16,"t":162.5},{"a":134,"b":140,"z":16,"t":162.8},{"a":140,"b":146,"z":16,"t":163.2},{"a":146,"b":152,"z":16,"t":163.4},{"a":152,"b":158,"z":16,"t":163.7},{"a":158,"b":162.5,"z":16,"t":163.9},
      {"a":162.5,"b":164,"z":16,"t":165.2},{"a":164,"b":165,"z":16,"t":167},{"a":165,"b":166,"z":16,"t":169.2},{"a":166,"b":167.5,"z":16,"t":171.5},{"a":167.5,"b":172,"z":16,"t":172.8},{"a":172,"b":177,"z":16,"t":173.4},{"a":177,"b":184,"z":16,"t":173.7},{"a":184,"b":190,"z":16,"t":173.5},{"a":190,"b":193.5,"z":16,"t":172.8},{"a":193.5,"b":195,"z":16,"t":171.5},{"a":195,"b":196,"z":16,"t":169.2},{"a":196,"b":197,"z":16,"t":167},{"a":197,"b":198.5,"z":16,"t":165.2},{"a":198.5,"b":205,"z":16,"t":163.9},{"a":205,"b":215,"z":16,"t":163.4},{"a":215,"b":224.5,"z":16,"t":163.2},

      {"a":-0.5,"b":8,"z":17,"t":163.2},{"a":8,"b":14,"z":17,"t":163.5},{"a":14,"b":17,"z":17,"t":163.9},{"a":17,"b":18.5,"z":17,"t":165.2},{"a":18.5,"b":19.5,"z":17,"t":166.8},{"a":19.5,"b":20.5,"z":17,"t":168.9},{"a":20.5,"b":22,"z":17,"t":171},{"a":22,"b":27,"z":17,"t":172.3},{"a":27,"b":32,"z":17,"t":172.9},{"a":32,"b":40,"z":17,"t":173.2},{"a":40,"b":45,"z":17,"t":173},{"a":45,"b":48.5,"z":17,"t":172.3},{"a":48.5,"b":50,"z":17,"t":171},{"a":50,"b":51,"z":17,"t":168.9},{"a":51,"b":52,"z":17,"t":166.8},{"a":52,"b":53.5,"z":17,"t":165.2},
      {"a":53.5,"b":58,"z":17,"t":163.9},{"a":58,"b":64,"z":17,"t":163.7},{"a":64,"b":70,"z":17,"t":163.4},{"a":70,"b":76,"z":17,"t":163.1},{"a":76,"b":82,"z":17,"t":162.8},{"a":82,"b":88,"z":17,"t":162.4},{"a":88,"b":94,"z":17,"t":162},{"a":94,"b":100,"z":17,"t":161.7},{"a":100,"b":116,"z":17,"t":161.5},{"a":116,"b":122,"z":17,"t":161.7},{"a":122,"b":128,"z":17,"t":162},{"a":128,"b":134,"z":17,"t":162.4},{"a":134,"b":140,"z":17,"t":162.8},{"a":140,"b":146,"z":17,"t":163.1},{"a":146,"b":152,"z":17,"t":163.4},{"a":152,"b":158,"z":17,"t":163.7},{"a":158,"b":162.5,"z":17,"t":163.9},
      {"a":162.5,"b":164,"z":17,"t":165.2},{"a":164,"b":165,"z":17,"t":166.8},{"a":165,"b":166,"z":17,"t":168.9},{"a":166,"b":167.5,"z":17,"t":171},{"a":167.5,"b":172,"z":17,"t":172.3},{"a":172,"b":177,"z":17,"t":172.9},{"a":177,"b":184,"z":17,"t":173.2},{"a":184,"b":190,"z":17,"t":173},{"a":190,"b":193.5,"z":17,"t":172.3},{"a":193.5,"b":195,"z":17,"t":171},{"a":195,"b":196,"z":17,"t":168.9},{"a":196,"b":197,"z":17,"t":166.8},{"a":197,"b":198.5,"z":17,"t":165.2},{"a":198.5,"b":205,"z":17,"t":163.9},{"a":205,"b":215,"z":17,"t":163.4},{"a":215,"b":224.5,"z":17,"t":163.2},

      {"a":-0.5,"b":8,"z":18,"t":163.2},{"a":8,"b":14,"z":18,"t":163.5},{"a":14,"b":17,"z":18,"t":163.9},{"a":17,"b":18.5,"z":18,"t":165.1},{"a":18.5,"b":19.5,"z":18,"t":166.7},{"a":19.5,"b":20.5,"z":18,"t":168.7},{"a":20.5,"b":22,"z":18,"t":170.7},{"a":22,"b":27,"z":18,"t":171.9},{"a":27,"b":32,"z":18,"t":172.5},{"a":32,"b":40,"z":18,"t":172.8},{"a":40,"b":45,"z":18,"t":172.6},{"a":45,"b":48.5,"z":18,"t":171.9},{"a":48.5,"b":50,"z":18,"t":170.7},{"a":50,"b":51,"z":18,"t":168.7},{"a":51,"b":52,"z":18,"t":166.7},{"a":52,"b":53.5,"z":18,"t":165.1},
      {"a":53.5,"b":58,"z":18,"t":163.9},{"a":58,"b":64,"z":18,"t":163.7},{"a":64,"b":70,"z":18,"t":163.4},{"a":70,"b":76,"z":18,"t":163.1},{"a":76,"b":82,"z":18,"t":162.8},{"a":82,"b":88,"z":18,"t":162.4},{"a":88,"b":94,"z":18,"t":162},{"a":94,"b":100,"z":18,"t":161.7},{"a":100,"b":116,"z":18,"t":161.5},{"a":116,"b":122,"z":18,"t":161.7},{"a":122,"b":128,"z":18,"t":162},{"a":128,"b":134,"z":18,"t":162.4},{"a":134,"b":140,"z":18,"t":162.8},{"a":140,"b":146,"z":18,"t":163.1},{"a":146,"b":152,"z":18,"t":163.4},{"a":152,"b":158,"z":18,"t":163.7},{"a":158,"b":162.5,"z":18,"t":163.9},
      {"a":162.5,"b":164,"z":18,"t":165.1},{"a":164,"b":165,"z":18,"t":166.7},{"a":165,"b":166,"z":18,"t":168.7},{"a":166,"b":167.5,"z":18,"t":170.7},{"a":167.5,"b":172,"z":18,"t":171.9},{"a":172,"b":177,"z":18,"t":172.5},{"a":177,"b":184,"z":18,"t":172.8},{"a":184,"b":190,"z":18,"t":172.6},{"a":190,"b":193.5,"z":18,"t":171.9},{"a":193.5,"b":195,"z":18,"t":170.7},{"a":195,"b":196,"z":18,"t":168.7},{"a":196,"b":197,"z":18,"t":166.7},{"a":197,"b":198.5,"z":18,"t":165.1},{"a":198.5,"b":205,"z":18,"t":163.9},{"a":205,"b":215,"z":18,"t":163.4},{"a":215,"b":224.5,"z":18,"t":163.2},

      {"a":-0.5,"b":8,"z":19,"t":163.2},{"a":8,"b":14,"z":19,"t":163.5},{"a":14,"b":17,"z":19,"t":163.9},{"a":17,"b":18.5,"z":19,"t":165},{"a":18.5,"b":19.5,"z":19,"t":166.6},{"a":19.5,"b":20.5,"z":19,"t":168.5},{"a":20.5,"b":22,"z":19,"t":170.4},{"a":22,"b":27,"z":19,"t":171.5},{"a":27,"b":32,"z":19,"t":172.1},{"a":32,"b":40,"z":19,"t":172.4},{"a":40,"b":45,"z":19,"t":172.2},{"a":45,"b":48.5,"z":19,"t":171.5},{"a":48.5,"b":50,"z":19,"t":170.4},{"a":50,"b":51,"z":19,"t":168.5},{"a":51,"b":52,"z":19,"t":166.6},{"a":52,"b":53.5,"z":19,"t":165},
      {"a":53.5,"b":58,"z":19,"t":163.9},{"a":58,"b":64,"z":19,"t":163.7},{"a":64,"b":70,"z":19,"t":163.4},{"a":70,"b":76,"z":19,"t":163.1},{"a":76,"b":82,"z":19,"t":162.8},{"a":82,"b":88,"z":19,"t":162.4},{"a":88,"b":94,"z":19,"t":162},{"a":94,"b":100,"z":19,"t":161.7},{"a":100,"b":116,"z":19,"t":161.5},{"a":116,"b":122,"z":19,"t":161.7},{"a":122,"b":128,"z":19,"t":162},{"a":128,"b":134,"z":19,"t":162.4},{"a":134,"b":140,"z":19,"t":162.8},{"a":140,"b":146,"z":19,"t":163.1},{"a":146,"b":152,"z":19,"t":163.4},{"a":152,"b":158,"z":19,"t":163.7},{"a":158,"b":162.5,"z":19,"t":163.9},
      {"a":162.5,"b":164,"z":19,"t":165},{"a":164,"b":165,"z":19,"t":166.6},{"a":165,"b":166,"z":19,"t":168.5},{"a":166,"b":167.5,"z":19,"t":170.4},{"a":167.5,"b":172,"z":19,"t":171.5},{"a":172,"b":177,"z":19,"t":172.1},{"a":177,"b":184,"z":19,"t":172.4},{"a":184,"b":190,"z":19,"t":172.2},{"a":190,"b":193.5,"z":19,"t":171.5},{"a":193.5,"b":195,"z":19,"t":170.4},{"a":195,"b":196,"z":19,"t":168.5},{"a":196,"b":197,"z":19,"t":166.6},{"a":197,"b":198.5,"z":19,"t":165},{"a":198.5,"b":205,"z":19,"t":163.9},{"a":205,"b":215,"z":19,"t":163.4},{"a":215,"b":224.5,"z":19,"t":163.2},

      {"a":-0.5,"b":8,"z":20,"t":163.2},{"a":8,"b":14,"z":20,"t":163.5},{"a":14,"b":17,"z":20,"t":163.9},{"a":17,"b":18.5,"z":20,"t":165},{"a":18.5,"b":19.5,"z":20,"t":166.4},{"a":19.5,"b":20.5,"z":20,"t":168.2},{"a":20.5,"b":22,"z":20,"t":170},{"a":22,"b":27,"z":20,"t":171.1},{"a":27,"b":32,"z":20,"t":171.7},{"a":32,"b":40,"z":20,"t":172},{"a":40,"b":45,"z":20,"t":171.8},{"a":45,"b":48.5,"z":20,"t":171.1},{"a":48.5,"b":50,"z":20,"t":170},{"a":50,"b":51,"z":20,"t":168.2},{"a":51,"b":52,"z":20,"t":166.4},{"a":52,"b":53.5,"z":20,"t":165},
      {"a":53.5,"b":58,"z":20,"t":163.9},{"a":58,"b":64,"z":20,"t":163.7},{"a":64,"b":70,"z":20,"t":163.4},{"a":70,"b":76,"z":20,"t":163.1},{"a":76,"b":82,"z":20,"t":162.8},{"a":82,"b":88,"z":20,"t":162.4},{"a":88,"b":94,"z":20,"t":162},{"a":94,"b":100,"z":20,"t":161.7},{"a":100,"b":116,"z":20,"t":161.5},{"a":116,"b":122,"z":20,"t":161.7},{"a":122,"b":128,"z":20,"t":162},{"a":128,"b":134,"z":20,"t":162.4},{"a":134,"b":140,"z":20,"t":162.8},{"a":140,"b":146,"z":20,"t":163.1},{"a":146,"b":152,"z":20,"t":163.4},{"a":152,"b":158,"z":20,"t":163.7},{"a":158,"b":162.5,"z":20,"t":163.9},
      {"a":162.5,"b":164,"z":20,"t":165},{"a":164,"b":165,"z":20,"t":166.4},{"a":165,"b":166,"z":20,"t":168.2},{"a":166,"b":167.5,"z":20,"t":170},{"a":167.5,"b":172,"z":20,"t":171.1},{"a":172,"b":177,"z":20,"t":171.7},{"a":177,"b":184,"z":20,"t":172},{"a":184,"b":190,"z":20,"t":171.8},{"a":190,"b":193.5,"z":20,"t":171.1},{"a":193.5,"b":195,"z":20,"t":170},{"a":195,"b":196,"z":20,"t":168.2},{"a":196,"b":197,"z":20,"t":166.4},{"a":197,"b":198.5,"z":20,"t":165},{"a":198.5,"b":205,"z":20,"t":163.9},{"a":205,"b":215,"z":20,"t":163.4},{"a":215,"b":224.5,"z":20,"t":163.2},

      {"a":-0.5,"b":8,"z":21,"t":163.8},{"a":8,"b":14,"z":21,"t":164},{"a":14,"b":17,"z":21,"t":164.2},{"a":17,"b":18.5,"z":21,"t":165.1},{"a":18.5,"b":19.5,"z":21,"t":166.3},{"a":19.5,"b":20.5,"z":21,"t":167.7},{"a":20.5,"b":22,"z":21,"t":169.2},{"a":22,"b":27,"z":21,"t":170.1},{"a":27,"b":32,"z":21,"t":170.7},{"a":32,"b":40,"z":21,"t":171},{"a":40,"b":45,"z":21,"t":170.8},{"a":45,"b":48.5,"z":21,"t":170.1},{"a":48.5,"b":50,"z":21,"t":169.2},{"a":50,"b":51,"z":21,"t":167.7},{"a":51,"b":52,"z":21,"t":166.3},{"a":52,"b":53.5,"z":21,"t":165.1},
      {"a":53.5,"b":58,"z":21,"t":164.2},{"a":58,"b":64,"z":21,"t":164.1},{"a":64,"b":70,"z":21,"t":164},{"a":70,"b":76,"z":21,"t":163.8},{"a":76,"b":82,"z":21,"t":163.6},{"a":82,"b":88,"z":21,"t":163.5},{"a":88,"b":94,"z":21,"t":163.3},{"a":94,"b":100,"z":21,"t":163.1},{"a":100,"b":116,"z":21,"t":163},{"a":116,"b":122,"z":21,"t":163.1},{"a":122,"b":128,"z":21,"t":163.3},{"a":128,"b":134,"z":21,"t":163.5},{"a":134,"b":140,"z":21,"t":163.6},{"a":140,"b":146,"z":21,"t":163.8},{"a":146,"b":152,"z":21,"t":164},{"a":152,"b":158,"z":21,"t":164.1},{"a":158,"b":162.5,"z":21,"t":164.2},
      {"a":162.5,"b":164,"z":21,"t":165.1},{"a":164,"b":165,"z":21,"t":166.3},{"a":165,"b":166,"z":21,"t":167.7},{"a":166,"b":167.5,"z":21,"t":169.2},{"a":167.5,"b":172,"z":21,"t":170.1},{"a":172,"b":177,"z":21,"t":170.7},{"a":177,"b":184,"z":21,"t":171},{"a":184,"b":190,"z":21,"t":170.8},{"a":190,"b":193.5,"z":21,"t":170.1},{"a":193.5,"b":195,"z":21,"t":169.2},{"a":195,"b":196,"z":21,"t":167.7},{"a":196,"b":197,"z":21,"t":166.3},{"a":197,"b":198.5,"z":21,"t":165.1},{"a":198.5,"b":205,"z":21,"t":164.2},{"a":205,"b":215,"z":21,"t":164},{"a":215,"b":224.5,"z":21,"t":163.8},

      {"a":-0.5,"b":17,"z":22,"t":164.6},{"a":17,"b":53.5,"z":22,"t":165.4},{"a":53.5,"b":162.5,"z":22,"t":164.4},{"a":162.5,"b":198.5,"z":22,"t":165.4},{"a":198.5,"b":224.5,"z":22,"t":164.6},
      {"a":-0.5,"b":17,"z":23,"t":164.8},{"a":17,"b":53.5,"z":23,"t":165.1},{"a":53.5,"b":162.5,"z":23,"t":164.6},{"a":162.5,"b":198.5,"z":23,"t":165.1},{"a":198.5,"b":224.5,"z":23,"t":164.8},
      {"a":-0.5,"b":224.5,"z":24,"t":164.9}
    ]
  },
  "mark": {
    "type": "rect",
    "strokeWidth": 0.8,
    "stroke": {"expr": "scale('color', datum.t)"}
  },
  "encoding": {
    "x": {
      "field": "a",
      "type": "quantitative",
      "scale": {"domain": [-0.5, 224.5], "nice": false, "zero": false},
      "axis": {
        "title": "X axis (.24 mm voxels)",
        "values": [0, 25, 50, 75, 100, 125, 150, 175, 200],
        "domain": false,
        "grid": false,
        "labelFlush": false,
        "tickColor": "#333",
        "tickSize": 3.5,
        "tickWidth": 0.8,
        "labelFont": "DejaVu Sans",
        "labelFontSize": 9.5,
        "labelColor": "#333",
        "labelPadding": 4.5,
        "titleFont": "Liberation Sans",
        "titleFontSize": 15.5,
        "titleFontWeight": "normal",
        "titleColor": "#000",
        "titlePadding": 9
      }
    },
    "x2": {"field": "b"},
    "y": {
      "field": "z",
      "type": "ordinal",
      "scale": {
        "domain": [0, 1, 2, 3, 4, 5, 6, 7, 8, 9, 10, 11, 12, 13, 14, 15, 16, 17, 18, 19, 20, 21, 22, 23, 24],
        "paddingInner": 0,
        "paddingOuter": 0
      },
      "axis": {
        "title": "Z axis (.08 mm voxels)",
        "values": [0, 5, 10, 15, 20],
        "domain": false,
        "grid": false,
        "labelAngle": 0,
        "tickColor": "#333",
        "tickSize": 3.5,
        "tickWidth": 0.8,
        "labelFont": "DejaVu Sans",
        "labelFontSize": 9.5,
        "labelColor": "#333",
        "labelPadding": 3.5,
        "titleFont": "Liberation Sans",
        "titleFontSize": 15.5,
        "titleFontWeight": "normal",
        "titleColor": "#000",
        "titlePadding": 10.5
      }
    },
    "color": {
      "field": "t",
      "type": "quantitative",
      "scale": {
        "type": "linear",
        "domain": [140, 143.06, 146.35, 149.41, 152.94, 155.76, 159.06, 162.12, 165.65, 168.47, 172, 177.88, 181.18, 184.71, 187.53, 190.83, 193.88, 200],
        "range": ["#000080", "#005f06", "#0000ff", "#00b8ff", "#00ffff", "#00fa9d", "#00ff00", "#66ce00", "#84ff0c", "#bbff3c", "#fff800", "#ffba00", "#ff4700", "#ff0000", "#ff00ff", "#9e2dff", "#eb80ff", "#fef8fe"],
        "interpolate": "rgb"
      },
      "legend": {
        "type": "gradient",
        "title": "Deg C",
        "orient": "none",
        "legendX": 351.4,
        "legendY": -8.9,
        "direction": "vertical",
        "gradientLength": 233.4,
        "gradientThickness": 11.7,
        "gradientStrokeColor": "#555",
        "gradientStrokeWidth": 0.8,
        "values": [140, 150, 160, 170, 180, 190, 200],
        "padding": 0,
        "titleFont": "Liberation Sans",
        "titleFontSize": 15.5,
        "titleFontWeight": "normal",
        "titleColor": "#000",
        "titleAnchor": "end",
        "titleAlign": "right",
        "titlePadding": 23.3,
        "labelFont": "DejaVu Sans",
        "labelFontSize": 9.5,
        "labelColor": "#333",
        "labelOffset": 6,
        "labelBaseline": "middle",
        "labelOverlap": false
      }
    }
  }
}
